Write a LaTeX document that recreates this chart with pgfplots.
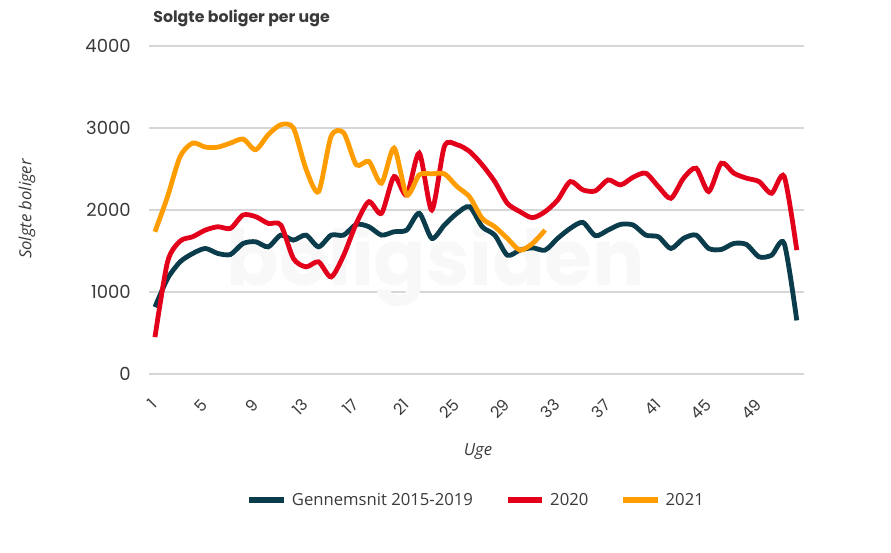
\documentclass[border=0pt]{standalone}
\usepackage{pgfplots}
\pgfplotsset{compat=1.18}
\usepackage{pgfplotstable}
\usepackage{fontspec}
\setmainfont{Open Sans}
\newfontfamily\tickfont{Poppins}
\definecolor{txt}{HTML}{3A3A3A}
\definecolor{teal}{HTML}{0B3C4B}
\definecolor{red20}{HTML}{E3001B}
\definecolor{orange21}{HTML}{FF9D00}
\definecolor{gridc}{HTML}{D6D6D6}
\definecolor{wm}{HTML}{F8F8F8}

\pgfplotstableread{
w v
1 817
2 1164
3 1368
4 1470
5 1531
6 1470
7 1458
8 1592
9 1613
10 1551
11 1694
12 1633
13 1694
14 1551
15 1694
16 1694
17 1825
18 1796
19 1694
20 1735
21 1755
22 1960
23 1654
24 1817
25 1960
26 2041
27 1796
28 1694
29 1449
30 1511
31 1539
32 1511
33 1654
34 1776
35 1849
36 1686
37 1755
38 1825
39 1817
40 1694
41 1674
42 1531
43 1654
44 1694
45 1531
46 1519
47 1592
48 1580
49 1429
50 1449
51 1592
52 654
}\avg

\pgfplotstableread{
w v
1 450
2 1368
3 1621
4 1674
5 1755
6 1796
7 1776
8 1939
9 1919
10 1837
11 1817
12 1409
13 1307
14 1368
15 1184
16 1450
17 1837
18 2102
19 1960
20 2408
21 2184
22 2694
23 2000
24 2776
25 2796
26 2714
27 2551
28 2347
29 2082
30 1980
31 1906
32 1980
33 2122
34 2347
35 2245
36 2233
37 2367
38 2306
39 2400
40 2449
41 2286
42 2143
43 2388
44 2510
45 2225
46 2571
47 2449
48 2388
49 2347
50 2204
51 2408
52 1511
}\yrtwenty

\pgfplotstableread{
w v
1 1735
2 2164
3 2653
4 2816
5 2767
6 2767
7 2816
8 2865
9 2735
10 2918
11 3040
12 3000
13 2500
14 2225
15 2900
16 2940
17 2551
18 2592
19 2327
20 2755
21 2184
22 2429
23 2441
24 2441
25 2286
26 2160
27 1898
28 1796
29 1654
30 1511
31 1592
32 1755
}\yrtwentyone

\begin{document}
\begin{tikzpicture}
\path[use as bounding box] (-111.5pt,-133.5pt) rectangle (556.7pt,280.5pt);
\begin{axis}[
  at={(0,0)}, anchor=south west,
  scale only axis,
  width=491.7pt, height=246pt,
  xmin=0.5, xmax=52.6,
  ymin=0, ymax=4000,
  axis line style={draw=none},
  tick style={draw=none},
  ytick={0,1000,2000,3000,4000},
  xtick={1,5,...,49},
  ymajorgrids,
  grid style={gridc, line width=0.9pt},
  major tick length=0pt,
  /pgf/number format/assume math mode=true,
  /pgf/number format/1000 sep={},
  ticklabel style={font=\tickfont\fontsize{13.5}{16}\selectfont, text=txt},
  yticklabel style={anchor=east, inner sep=0pt, xshift=-13.3pt},
  xticklabel style={rotate=45, anchor=east, inner sep=0pt, yshift=-14.5pt, xshift=-15pt,
    font=\tickfont\fontsize{12}{14}\selectfont},
  legend columns=3,
  legend style={at={(axis description cs:0.5,-0.384)}, anchor=center, draw=none, fill=none,
    font=\fontsize{12.5}{15}\selectfont, text=txt,
    /tikz/every even column/.append style={column sep=22pt}},
  legend image code/.code={\draw[line width=4pt] (0pt,0pt) -- (26pt,0pt);},
  clip=false,
]
\node[text=wm, font=\tickfont\bfseries\fontsize{58}{60}\selectfont] at (axis cs:23.3,1330) {boligsiden};
\addplot[teal, line width=3.6pt, smooth, tension=0.45] table[x=w,y=v] {\avg};
\addlegendentry{\hspace{2pt}Gennemsnit 2015-2019}
\addplot[red20, line width=3.6pt, smooth, tension=0.45] table[x=w,y=v] {\yrtwenty};
\addlegendentry{\hspace{2pt}2020}
\addplot[orange21, line width=3.6pt, smooth, tension=0.45] table[x=w,y=v] {\yrtwentyone};
\addlegendentry{\hspace{2pt}2021}
\end{axis}
\node[anchor=west, text=txt, font=\tickfont\bfseries\fontsize{11.8}{14}\selectfont] at (0pt,267pt) {Solgte boliger per uge};
\node[rotate=90, text=txt, font=\itshape\fontsize{12.5}{15}\selectfont] at (-91.3pt,123.75pt) {Solgte boliger};
\node[text=txt, font=\itshape\fontsize{12.5}{15}\selectfont] at (247pt,-58.5pt) {Uge};
\end{tikzpicture}
\end{document}
